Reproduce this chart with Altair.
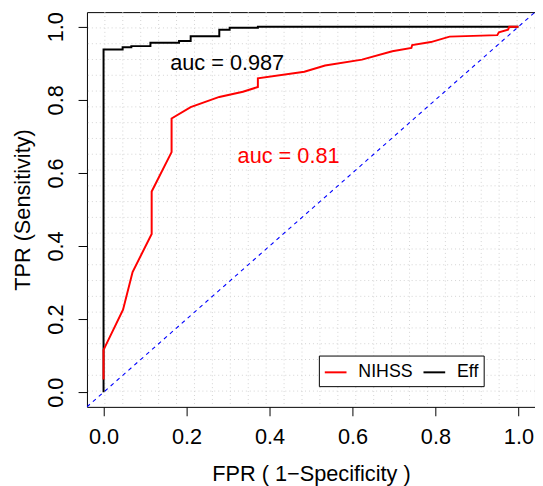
import altair as alt
import pandas as pd

# ROC curve points (FPR, TPR)
fpr_nihss = [0.0, 0.0, 0.047, 0.070, 0.116, 0.116, 0.164, 0.164, 0.210, 0.279, 0.336,
             0.372, 0.372, 0.484, 0.534, 0.623, 0.696, 0.742, 0.744, 0.789, 0.834,
             0.949, 0.953, 0.975, 0.978, 1.0]
tpr_nihss = [0.035, 0.116, 0.226, 0.329, 0.433, 0.549, 0.657, 0.749, 0.780, 0.808, 0.822,
             0.835, 0.859, 0.877, 0.894, 0.910, 0.933, 0.942, 0.950, 0.958, 0.973,
             0.977, 0.985, 0.992, 1.0, 1.0]
fpr_eff = [0.0, 0.0, 0.046, 0.046, 0.067, 0.067, 0.113, 0.113, 0.182, 0.182, 0.210,
           0.210, 0.279, 0.279, 0.304, 0.304, 0.372, 0.372, 1.0]
tpr_eff = [0.0, 0.938, 0.938, 0.944, 0.944, 0.947, 0.947, 0.956, 0.956, 0.961, 0.961,
           0.974, 0.974, 0.992, 0.992, 0.997, 0.997, 1.0, 1.0]

models = ["NIHSS", "Eff"]
model_colors = ["#ff0000", "#000000"]
auc_labels = ["auc = 0.987", "auc = 0.81"]
auc_x = [0.298, 0.446]
auc_y = [0.900, 0.646]
auc_colors = ["#000000", "#ff0000"]

tick_vals = [0.0, 0.2, 0.4, 0.6, 0.8, 1.0]
dom = [-0.04, 1.04]
grid_n = 25
grid_vals = [dom[0] + k * (dom[1] - dom[0]) / grid_n for k in range(1, grid_n)]

FONT = "Liberation Sans"
NBSP = "\u00a0"

curves = pd.DataFrame({
    "fpr": fpr_nihss + fpr_eff,
    "tpr": tpr_nihss + tpr_eff,
    "model": ["NIHSS"] * len(fpr_nihss) + ["Eff"] * len(fpr_eff),
    "idx": list(range(len(fpr_nihss))) + list(range(len(fpr_eff))),
})
grid_df = pd.DataFrame({"g": grid_vals})
diag_df = pd.DataFrame({"a": dom, "b": dom})
text_df = pd.DataFrame({"x": auc_x, "y": auc_y, "label": auc_labels, "col": auc_colors})

xs = alt.Scale(domain=dom, nice=False, zero=False)
ys = alt.Scale(domain=dom, nice=False, zero=False)

x_axis = alt.Axis(title="FPR ( 1\u2212Specificity )", values=tick_vals, format=".1f",
                  labelBaseline="alphabetic", labelPadding=28,
                  titleY=75, titleBaseline="alphabetic")
y_axis = alt.Axis(title="TPR (Sensitivity)", values=tick_vals, format=".1f",
                  labelAngle=-90, labelAlign="center", labelBaseline="alphabetic",
                  labelPadding=16, titleX=-58, titleY=200, titleAngle=270,
                  titleBaseline="alphabetic", titleAlign="center")

color_enc = alt.Color(
    "model:N",
    scale=alt.Scale(domain=models, range=model_colors),
    legend=alt.Legend(title=NBSP * 6, titleOrient="right", titlePadding=0,
                      titleFontSize=18, titleFont=FONT,
                      orient="none", legendX=235, legendY=348,
                      direction="horizontal", symbolType="stroke", symbolSize=484,
                      symbolStrokeWidth=2, labelFontSize=18, labelFont=FONT,
                      labelColor="black", fillColor="white", strokeColor="black",
                      padding=5, labelOffset=11, columnPadding=6),
)

grid_v = alt.Chart(grid_df).mark_rule(color="#d3d3d3", strokeWidth=1, strokeDash=[1, 3]).encode(
    x=alt.X("g:Q", scale=xs, axis=x_axis))
grid_h = alt.Chart(grid_df).mark_rule(color="#d3d3d3", strokeWidth=1, strokeDash=[1, 3]).encode(
    y=alt.Y("g:Q", scale=ys, axis=y_axis))
diag = alt.Chart(diag_df).mark_line(color="#0000ff", strokeWidth=1.1, strokeDash=[4, 4], clip=True).encode(
    x=alt.X("a:Q", scale=xs, axis=x_axis), y=alt.Y("b:Q", scale=ys, axis=y_axis))

eff = alt.Chart(curves).transform_filter(alt.datum.model == "Eff").mark_line(strokeWidth=2).encode(
    x=alt.X("fpr:Q", scale=xs, axis=x_axis), y=alt.Y("tpr:Q", scale=ys, axis=y_axis),
    color=color_enc, order=alt.Order("idx:Q"))
nihss = alt.Chart(curves).transform_filter(alt.datum.model == "NIHSS").mark_line(strokeWidth=2).encode(
    x=alt.X("fpr:Q", scale=xs, axis=x_axis), y=alt.Y("tpr:Q", scale=ys, axis=y_axis),
    color=color_enc, order=alt.Order("idx:Q"))

texts = alt.Chart(text_df).mark_text(font=FONT, fontSize=22, align="center", baseline="middle").encode(
    x=alt.X("x:Q", scale=xs, axis=x_axis), y=alt.Y("y:Q", scale=ys, axis=y_axis),
    text="label:N", color=alt.Color("col:N", scale=None))

chart = alt.layer(grid_v, grid_h, diag, eff, nihss, texts).properties(
    width=454, height=400,
    autosize=alt.AutoSizeParams(type="none"),
    padding={"left": 80, "top": 1, "right": 0, "bottom": 77},
).configure_view(stroke="black", strokeWidth=1).configure_axis(
    labelFont=FONT, titleFont=FONT, labelFontSize=22, titleFontSize=22,
    labelColor="black", titleColor="black", titleFontWeight="normal",
    tickColor="black", tickSize=9, tickWidth=1, domain=False, grid=False,
)

chart.save("out.html", embed_options={"renderer": "svg", "actions": False})
